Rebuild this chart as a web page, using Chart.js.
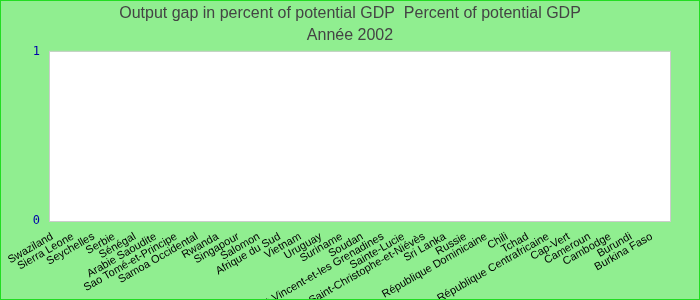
<!DOCTYPE html>
<html>
<head>
<meta charset="utf-8">
<script src="https://cdn.jsdelivr.net/npm/chart.js@4/dist/chart.umd.min.js"></script>
<style>
  html, body { margin: 0; padding: 0; }
  #frame {
    width: 700px; height: 300px; box-sizing: border-box;
    border: 1px solid #22dd22; background: #90ee90; position: relative;
  }
  #frame canvas { display: block; }
</style>
</head>
<body>
<div id="frame"><canvas id="chart" width="698" height="298"></canvas></div>
<script>
// Countries on the category axis
const countries = [
  "Swaziland", "Sierra Leone", "Seychelles", "Serbie", "Sénégal",
  "Arabie Saoudite", "Sao Tomé-et-Principe", "Samoa Occidental", "Rwanda", "Singapour",
  "Salomon", "Afrique du Sud", "Vietnam", "Uruguay", "Suriname",
  "Soudan", "Saint-Vincent-et-les Grenadines", "Sainte-Lucie", "Saint-Christophe-et-Niévès", "Sri Lanka",
  "Russie", "République Dominicaine", "Chili", "Tchad", "République Centrafricaine",
  "Cap-Vert", "Cameroun", "Cambodge", "Burundi", "Burkina Faso"
];
// Output gap for 2002 (no figures reported: all zero)
const outputGap2002 = [
  0, 0, 0, 0, 0, 0, 0, 0, 0, 0,
  0, 0, 0, 0, 0, 0, 0, 0, 0, 0,
  0, 0, 0, 0, 0, 0, 0, 0, 0, 0
];
// Value-axis ticks
const yTicks = [0, 1];

const titleLines = ["Output gap in percent of potential GDP  Percent of potential GDP", "Année 2002"];

// White plot area with a thin grey frame
const plotFrame = {
  id: "plotFrame",
  beforeDatasetsDraw(chart) {
    const { ctx, chartArea: a } = chart;
    ctx.save();
    ctx.fillStyle = "#ffffff";
    ctx.fillRect(a.left, a.top, a.right - a.left, a.bottom - a.top);
    ctx.strokeStyle = "#cccccc";
    ctx.lineWidth = 1;
    ctx.strokeRect(a.left - 0.5, a.top - 0.5, a.right - a.left + 1, a.bottom - a.top + 1);
    ctx.restore();
  }
};

new Chart(document.getElementById("chart"), {
  type: "bar",
  data: {
    labels: countries,
    datasets: [{
      label: "Output gap",
      data: outputGap2002,
      backgroundColor: "#4f81bd",
      borderWidth: 0
    }]
  },
  options: {
    responsive: false,
    animation: false,
    layout: { padding: 0 },
    plugins: {
      legend: { display: false },
      tooltip: { enabled: false },
      title: {
        display: true,
        text: titleLines,
        color: "#444444",
        font: { family: "Liberation Sans, Arial, sans-serif", size: 16, weight: "normal", lineHeight: 1.4 },
        padding: { top: 1, bottom: 5 }
      }
    },
    scales: {
      x: {
        grid: { display: false, drawTicks: false },
        border: { display: false },
        ticks: {
          autoSkip: false,
          minRotation: 30,
          maxRotation: 30,
          padding: 9,
          labelOffset: -8,
          color: "#000000",
          font: { family: "Liberation Sans, Arial, sans-serif", size: 11 }
        },
        afterFit(scale) { scale.height = 78; }
      },
      y: {
        min: 0,
        max: 1,
        afterBuildTicks(scale) { scale.ticks = yTicks.map(v => ({ value: v })); },
        grid: { display: false, drawTicks: false },
        border: { display: false },
        ticks: {
          padding: 10,
          color: "#0000aa",
          font: { family: "DejaVu Sans Mono, monospace", size: 12 }
        },
        afterFit(scale) { scale.width = 49; }
      },
      // empty margin on the right of the plot
      gutter: {
        type: "linear",
        position: "right",
        min: 0,
        max: 1,
        grid: { display: false, drawTicks: false },
        border: { display: false },
        ticks: { display: false },
        afterFit(scale) { scale.width = 29; }
      }
    }
  },
  plugins: [plotFrame]
});
</script>
</body>
</html>
